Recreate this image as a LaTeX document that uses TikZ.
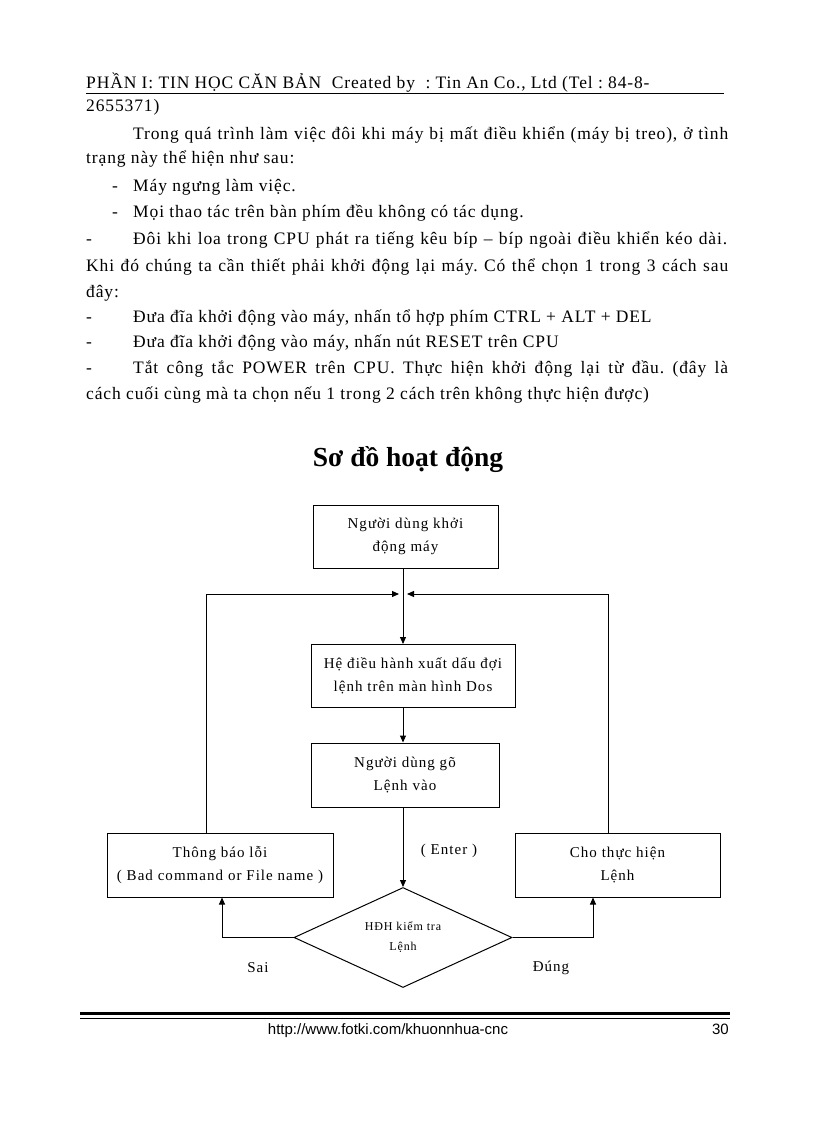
\documentclass[tikz,border=0pt]{standalone}
\usepackage{fontspec}
\setmainfont{Liberation Serif}
\newfontfamily\bodyf[LetterSpace=5]{Liberation Serif}
\newfontfamily\boxf[LetterSpace=7]{Liberation Serif}
\newfontfamily\sansf{Liberation Sans}
\usetikzlibrary{arrows.meta,shapes.geometric}
\frenchspacing
\begin{document}
\begin{tikzpicture}[x=1pt,y=-1pt,
  txt/.style={anchor=base west, inner sep=0pt, font=\bodyf\fontsize{17.5}{20}\selectfont},
  box/.style={draw, line width=1pt, inner sep=2pt, align=center, font=\boxf\fontsize{15}{23}\selectfont},
  lbl/.style={inner sep=0pt, font=\boxf\fontsize{15}{17}\selectfont},
  arr/.style={-{Triangle[length=7pt,width=6pt]}, line width=1pt},
  ln/.style={line width=1pt}
]
\useasboundingbox (0,0) rectangle (816,1123);
\fill[white] (0,0) rectangle (816,1123);

% header
\node[txt] (h1) at (86,89) {PHẦN I: TIN HỌC CĂN BẢN\ \ Created by\ \ : Tin An Co., Ltd (Tel : 84-8-};
\coordinate (ul1) at (86,94);
\coordinate (ul2) at (724,94);
\draw[ln] (ul1) -- (ul2);
\node[txt] (h2) at (86,112) {2655371)};

% body text
\node[txt] (t1) at (133,140) {\makebox[595pt][s]{Trong quá trình làm việc đôi khi máy bị mất điều khiển (máy bị treo), ở tình}};
\node[txt] (t2) at (86,164) {trạng này thể hiện như sau:};
\node[txt] (d3) at (112,192) {-};
\node[txt] (t3) at (133,192) {Máy ngưng làm việc.};
\node[txt] (d4) at (112,218) {-};
\node[txt] (t4) at (133,218) {Mọi thao tác trên bàn phím đều không có tác dụng.};
\node[txt] (d5) at (86,244) {-};
\node[txt] (t5) at (133,244) {\makebox[594pt][s]{Đôi khi loa trong CPU phát ra tiếng kêu bíp – bíp ngoài điều khiển kéo dài.}};
\node[txt] (t6) at (86,271) {\makebox[642pt][s]{Khi đó chúng ta cần thiết phải khởi động lại máy. Có thể chọn 1 trong 3 cách sau}};
\node[txt] (t7) at (86,297) {đây:};
\node[txt] (d8) at (86,322) {-};
\node[txt] (t8) at (133,322) {Đưa đĩa khởi động vào máy, nhấn tổ hợp phím CTRL + ALT + DEL};
\node[txt] (d9) at (86,347) {-};
\node[txt] (t9) at (133,347) {Đưa đĩa khởi động vào máy, nhấn nút RESET trên CPU};
\node[txt] (d10) at (86,373) {-};
\node[txt] (t10) at (133,373) {\makebox[595pt][s]{Tắt công tắc POWER trên CPU. Thực hiện khởi động lại từ đầu. (đây là}};
\node[txt] (t11) at (86,399) {cách cuối cùng mà ta chọn nếu 1 trong 2 cách trên không thực hiện được)};

% title
\node[inner sep=0pt, anchor=base, font=\fontsize{27.5}{30}\selectfont\bfseries] (title) at (408,466) {Sơ đồ hoạt động};

% flowchart
\node[box, minimum width=185pt, minimum height=63pt] (b1) at (405.5,536.5) {Người dùng khởi\\động máy};
\node[box, minimum width=204pt, minimum height=63pt] (b2) at (413,676) {Hệ điều hành xuất dấu đợi\\lệnh trên màn hình Dos};
\node[box, minimum width=188pt, minimum height=64pt] (b3) at (405,775) {Người dùng gõ\\Lệnh vào};
\node[box, minimum width=226pt, minimum height=64pt] (b4) at (220,865) {Thông báo lỗi\\( Bad command or File name )};
\node[box, minimum width=205pt, minimum height=64pt] (b5) at (617.5,865) {Cho thực hiện\\Lệnh};
\node[draw, diamond, aspect=2.2, line width=1pt, inner sep=0pt, minimum width=218pt, minimum height=100pt, align=center, font=\boxf\fontsize{12}{20}\selectfont] (d) at (403,937.5) {HĐH kiểm tra\\Lệnh};

\coordinate (mx) at (403,0);
\coordinate (jl) at (399,594);
\coordinate (jr) at (407,594);
\coordinate (lt) at (206,594);
\coordinate (rt) at (608,594);
\coordinate (lb) at (222,937.5);
\coordinate (rb) at (593,937.5);

\draw[arr] (b1.south -| mx) -- (b2.north -| mx);
\draw[arr] (b2.south -| mx) -- (b3.north -| mx);
\draw[arr] (b3.south -| mx) -- (d.north);
\draw[arr] (b4.north -| lt) -- (lt) -- (jl);
\draw[arr] (b5.north -| rt) -- (rt) -- (jr);
\draw[arr] (d.west) -- (lb) -- (b4.south -| lb);
\draw[arr] (d.east) -- (rb) -- (b5.south -| rb);

\node[lbl] (enter) at (449,851) {( Enter )};
\node[lbl] (sai) at (258,968) {Sai};
\node[lbl] (dung) at (551,968) {Đúng};

% footer
\coordinate (f1) at (80,1013);
\coordinate (f2) at (730,1013);
\coordinate (f3) at (80,1018.5);
\coordinate (f4) at (730,1018.5);
\draw[line width=3pt] (f1) -- (f2);
\draw[line width=1pt] (f3) -- (f4);
\node[inner sep=0pt, anchor=base, font=\sansf\fontsize{15}{16}\selectfont] (url) at (388,1034) {http://www.fotki.com/khuonnhua-cnc};
\node[inner sep=0pt, anchor=base east, font=\sansf\fontsize{15}{16}\selectfont] (pg) at (729,1034) {30};
\end{tikzpicture}
\end{document}
